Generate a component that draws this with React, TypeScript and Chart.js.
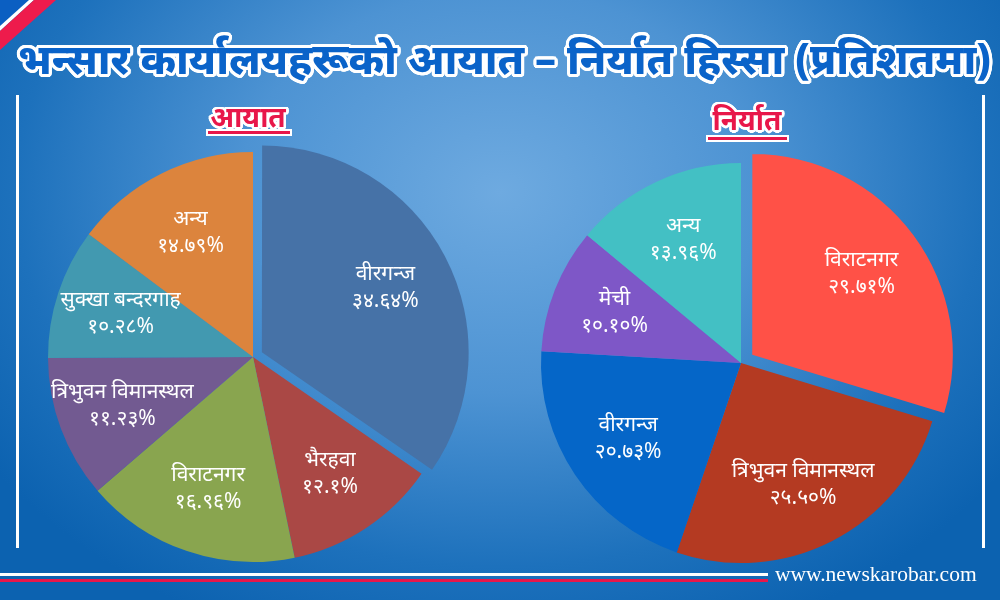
import React, { useEffect, useRef } from "react";
import { Chart, registerables } from "chart.js";

Chart.register(...registerables);

const titleText = "भन्सार कार्यालयहरूको आयात – निर्यात हिस्सा (प्रतिशतमा)";
const importTitle = "आयात";
const exportTitle = "निर्यात";
const siteText = "www.newskarobar.com";

const importCategories = ["वीरगन्ज", "भैरहवा", "विराटनगर", "त्रिभुवन विमानस्थल", "सुक्खा बन्दरगाह", "अन्य"];
const importShares = [34.64, 12.1, 16.96, 11.23, 10.28, 14.79];
const importColors = ["#4672a7", "#aa4845", "#89a54f", "#725a91", "#4299b0", "#dc843d"];

const exportCategories = ["विराटनगर", "त्रिभुवन विमानस्थल", "वीरगन्ज", "मेची", "अन्य"];
const exportShares = [29.71, 25.5, 20.73, 10.1, 13.96];
const exportColors = ["#ff5147", "#b43a22", "#0566c8", "#7e57c7", "#43c0c4"];

const DEVA = ["०", "१", "२", "३", "४", "५", "६", "७", "८", "९"];
const toDeva = (s: string) => s.replace(/[0-9]/g, (d) => DEVA[+d]);

const sliceLabels = {
  id: "sliceLabels",
  afterDatasetsDraw(chart: any, _args: any, opts: any) {
    const ctx = chart.ctx as CanvasRenderingContext2D;
    const meta = chart.getDatasetMeta(0);
    const labels = chart.data.labels as string[];
    const data = chart.data.datasets[0].data as number[];
    ctx.save();
    ctx.fillStyle = "#ffffff";
    ctx.font = opts.font;
    ctx.textAlign = "center";
    ctx.textBaseline = "middle";
    meta.data.forEach((arc: any, i: number) => {
      const p = arc.getProps(["x", "y", "startAngle", "endAngle", "outerRadius"], true);
      const off = (arc.options.offset || 0) / 4;
      const mid = (p.startAngle + p.endAngle) / 2;
      const r = p.outerRadius * opts.radial + off;
      const x = p.x + Math.cos(mid) * r;
      const y = p.y + Math.sin(mid) * r;
      const v = opts.decimals == null ? String(data[i]) : data[i].toFixed(opts.decimals);
      ctx.fillText(labels[i], x, y - opts.gap / 2);
      ctx.fillText(toDeva(v) + "%", x, y + opts.gap / 2);
    });
    ctx.restore();
  },
};

function PieCanvas(props: {
  categories: string[];
  values: number[];
  colors: string[];
  radius: number;
  explode: number;
  decimals: number | null;
  left: number;
  top: number;
  size: number;
}) {
  const ref = useRef<HTMLCanvasElement>(null);
  useEffect(() => {
    const chart = new Chart(ref.current as HTMLCanvasElement, {
      type: "pie",
      data: {
        labels: props.categories,
        datasets: [
          {
            data: props.values,
            backgroundColor: props.colors,
            borderWidth: 0,
            hoverOffset: 0,
            offset: (c: any) => (c.dataIndex === 0 ? props.explode : 0),
            clip: false as any,
          } as any,
        ],
      },
      options: {
        responsive: false,
        animation: false,
        radius: props.radius,
        layout: { padding: 0 },
        events: [],
        plugins: {
          legend: { display: false },
          tooltip: { enabled: false },
          sliceLabels: {
            font: "21px 'Noto Sans', 'Noto Sans Devanagari', sans-serif",
            radial: 0.68,
            gap: 27,
            decimals: props.decimals,
          },
        } as any,
      } as any,
      plugins: [sliceLabels],
    });
    return () => chart.destroy();
  }, []);
  return (
    <canvas
      ref={ref}
      width={props.size}
      height={props.size}
      style={{ position: "absolute", left: props.left, top: props.top, width: props.size, height: props.size }}
    />
  );
}

function outline(color: string, w: number) {
  const parts: string[] = [];
  for (let a = 0; a < 24; a++) {
    const t = (a / 24) * Math.PI * 2;
    parts.push(`${(Math.cos(t) * w).toFixed(2)}px ${(Math.sin(t) * w).toFixed(2)}px 0 ${color}`);
  }
  return parts.join(", ");
}

export default function App() {
  const devaFont = "'Noto Sans', 'Noto Sans Devanagari', sans-serif";
  return (
    <div
      style={{
        position: "fixed",
        left: 0,
        top: 0,
        width: 1000,
        height: 600,
        overflow: "hidden",
        background:
          "radial-gradient(ellipse 62% 80% at 50% 32%, #6eaae0 0%, #4d93d3 42%, #1d71bc 78%, #0c62b0 100%)",
      }}
    >
      <svg width={80} height={70} style={{ position: "absolute", left: 0, top: 0 }}>
        <polygon points="0,0 29,0 0,26" fill="#0b5fc2" />
        <polygon points="29,0 34,0 0,31 0,26" fill="#ffffff" />
        <polygon points="34,0 56,0 0,50 0,31" fill="#ee1b4c" />
      </svg>

      <div style={{ position: "absolute", left: 16, top: 95, width: 3, height: 453, background: "#fff" }} />
      <div style={{ position: "absolute", left: 982, top: 95, width: 3, height: 453, background: "#fff" }} />

      <PieCanvas
        categories={importCategories}
        values={importShares}
        colors={importColors}
        radius={205}
        explode={40}
        decimals={null}
        left={13}
        top={117}
        size={480}
      />
      <PieCanvas
        categories={exportCategories}
        values={exportShares}
        colors={exportColors}
        radius={200}
        explode={56}
        decimals={2}
        left={501}
        top={123}
        size={480}
      />

      <div
        style={{
          position: "absolute",
          left: 18,
          top: 29,
          fontFamily: devaFont,
          fontWeight: 800,
          fontSize: 42,
          lineHeight: "58px",
          color: "#0a63c9",
          whiteSpace: "nowrap",
          textShadow: outline("#ffffff", 3),
        }}
      >
        {titleText}
      </div>

      <div
        style={{
          position: "absolute",
          left: 206,
          top: 96,
          width: 84,
          textAlign: "center",
          fontFamily: devaFont,
          fontWeight: 700,
          fontSize: 28,
          lineHeight: "40px",
          color: "#e8174a",
          whiteSpace: "nowrap",
          textShadow: outline("#ffffff", 2.5),
        }}
      >
        {importTitle}
      </div>
      <div
        style={{
          position: "absolute",
          left: 208,
          top: 131,
          width: 82,
          height: 3,
          background: "#e8174a",
          boxShadow: "0 0 0 2px #ffffff",
        }}
      />
      <div
        style={{
          position: "absolute",
          left: 705,
          top: 99,
          width: 84,
          textAlign: "center",
          fontFamily: devaFont,
          fontWeight: 700,
          fontSize: 28,
          lineHeight: "40px",
          color: "#e8174a",
          whiteSpace: "nowrap",
          textShadow: outline("#ffffff", 2.5),
        }}
      >
        {exportTitle}
      </div>
      <div
        style={{
          position: "absolute",
          left: 708,
          top: 137,
          width: 79,
          height: 3,
          background: "#e8174a",
          boxShadow: "0 0 0 2px #ffffff",
        }}
      />

      <div style={{ position: "absolute", left: 0, top: 573, width: 768, height: 3, background: "#ffffff" }} />
      <div style={{ position: "absolute", left: 0, top: 579, width: 768, height: 3, background: "#e8174a" }} />
      <div
        style={{
          position: "absolute",
          left: 775,
          top: 562,
          fontFamily: "'Liberation Serif', 'Times New Roman', serif",
          fontSize: 21.5,
          lineHeight: "24px",
          color: "#ffffff",
          whiteSpace: "nowrap",
        }}
      >
        {siteText}
      </div>
    </div>
  );
}
